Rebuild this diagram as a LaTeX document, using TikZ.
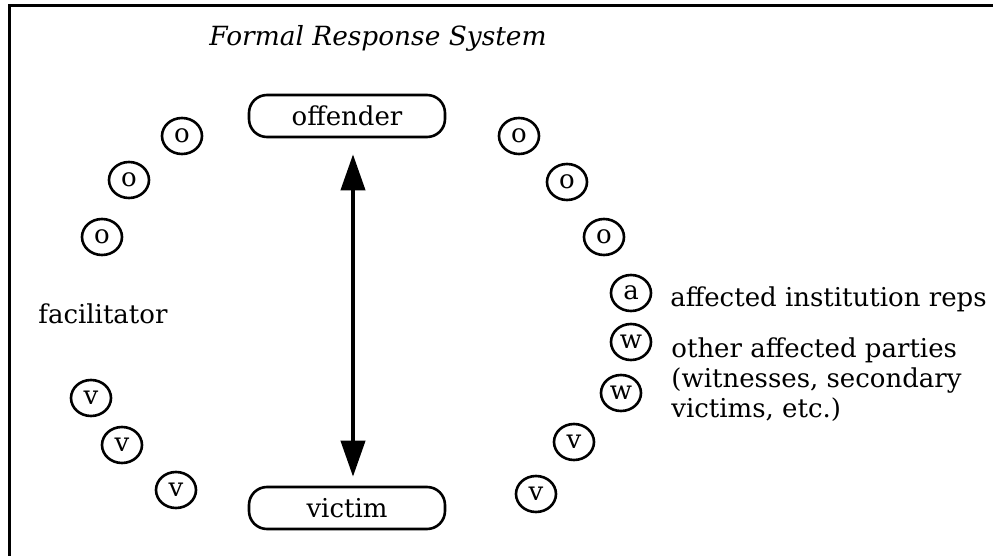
\documentclass[tikz,border=0pt]{standalone}
\usepackage{fontspec}
\setmainfont{DejaVu Serif}
\usetikzlibrary{arrows.meta,shapes.geometric}

\begin{document}
\begin{tikzpicture}[x=0.5pt, y=-0.5pt, >={Triangle[length=18pt,width=12pt]},
        party/.style={draw, rounded corners=9pt, line width=1.3pt,
            minimum width=98pt, minimum height=21pt, font=\fontsize{13}{15}\selectfont},
        member/.style={draw, ellipse, line width=1.3pt, inner sep=0pt,
            minimum width=20pt, minimum height=18pt, font=\fontsize{13}{15}\selectfont},
        note/.style={inner sep=0pt, align=left, font=\fontsize{13}{15.25}\selectfont}]
        % --- FRAME ---
        \useasboundingbox (0,0) rectangle (993,556);
        \draw[line width=1.5pt] (9.5,570) -- (9.5,6) -- (1010,6);

        % --- TITLE ---
        \node[note, anchor=base, font=\fontsize{13.2}{15}\selectfont\itshape] (title) at (378,46) {Formal Response System};

        % --- OFFENDER AND VICTIM ---
        \node[party] (offender) at (347,116) {offender};
        \node[party] (victim) at (347,508) {victim};
        \draw[<->, line width=2pt] ([xshift=3pt,yshift=-8pt]offender.south) -- ([xshift=3pt,yshift=4.5pt]victim.north);

        % --- SUPPORTERS IN THE CIRCLE ---
        % left side: offender (o) and victim (v) supporters
        \foreach \name/\px/\py/\txt in {oL1/182/136/o, oL2/129/180/o, oL3/102/237/o,
                vL1/91/398/v, vL2/122/445/v, vL3/176/490/v}
            \node[member] (\name) at (\px,\py) {\txt};
        % right side: supporters, institution reps and other parties
        \foreach \name/\px/\py/\txt in {oR1/519/136/o, oR2/567/182/o, oR3/604/237/o,
                aR/631/293/a, wR1/631/342/w, wR2/621/393/w,
                vR1/574/442/v, vR2/536/494/v}
            \node[member] (\name) at (\px,\py) {\txt};

        % --- LABELS ---
        \node[note, anchor=base west] (facilitator) at (38,324) {facilitator};
        \node[note, anchor=base west] (reps) at (670,307) {affected institution reps};
        % last line sits on the anchor, first line 61px above
        \node[note, anchor=base west] (others) at (671,418) {other affected parties\\(witnesses, secondary\\victims, etc.)};
    \end{tikzpicture}
\end{document}
